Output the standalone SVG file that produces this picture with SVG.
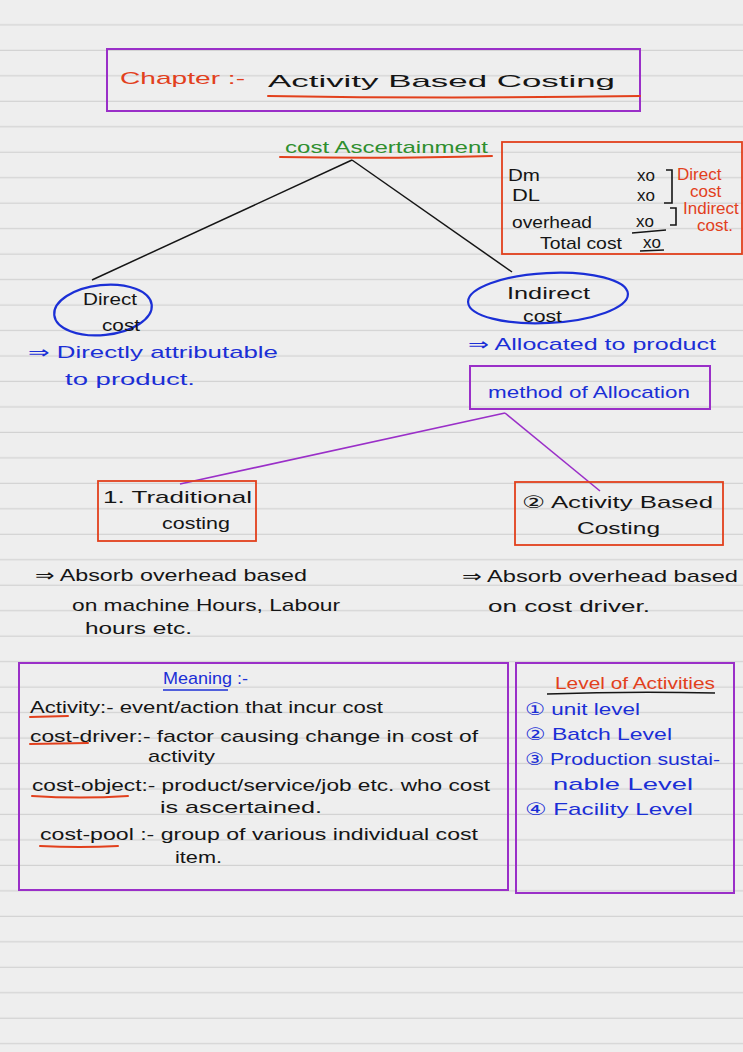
<svg xmlns="http://www.w3.org/2000/svg" width="743" height="1052" viewBox="0 0 743 1052">
<defs>
<pattern id="ruled" x="0" y="0" width="743" height="25.47" patternUnits="userSpaceOnUse">
<rect x="0" y="0" width="743" height="25.47" fill="#eeeeee"/>
<rect x="0" y="24.3" width="743" height="1.3" fill="#d2d2d2"/>
</pattern>
<style>
text{font-family:"Liberation Sans","DejaVu Sans",sans-serif;font-size:17px;}
.k{fill:#151515}
.r{fill:#e2401c}
.g{fill:#2f8f2f}
.b{fill:#1b2fd6}
.box-p{fill:none;stroke:#9a2fc8;stroke-width:2}
.box-r{fill:none;stroke:#e2401c;stroke-width:1.8}
.ell{fill:none;stroke:#1b2fd6;stroke-width:2.2}
.ul-r{stroke:#e2401c;stroke-width:2;fill:none;stroke-linecap:round}
.ul-b{stroke:#1b2fd6;stroke-width:1.6;fill:none}
.ul-k{stroke:#151515;stroke-width:1.6;fill:none}
.con-k{stroke:#151515;stroke-width:1.5;fill:none}
.con-p{stroke:#9a2fc8;stroke-width:1.6;fill:none}
</style>
</defs>
<rect x="0" y="0" width="743" height="1052" fill="#eeeeee"/>
<rect x="0" y="0.7" width="743" height="1052" fill="url(#ruled)"/>

<g id="connectors">
<line class="con-k" x1="352" y1="160" x2="92" y2="280"/>
<line class="con-k" x1="352" y1="160" x2="512" y2="272"/>
<line class="con-p" x1="505" y1="413" x2="180" y2="484"/>
<line class="con-p" x1="505" y1="413" x2="600" y2="491"/>
</g>

<g id="title">
<rect class="box-p" x="107" y="49" width="533" height="62"/>
<text class="r" x="120" y="84" font-size="21" textLength="125" lengthAdjust="spacingAndGlyphs">Chapter :-</text>
<text class="k" x="268" y="87" font-size="29" textLength="347" lengthAdjust="spacingAndGlyphs">Activity Based Costing</text>
<path class="ul-r" d="M268 96 Q450 99 640 96"/>
</g>

<g id="cost-ascertainment">
<text class="g" x="285" y="153" font-size="17" textLength="203" lengthAdjust="spacingAndGlyphs">cost Ascertainment</text>
<path class="ul-r" d="M280 157 Q390 159 492 156"/>
</g>

<g id="cost-sheet">
<rect class="box-r" x="502" y="142" width="240" height="112"/>
<text class="k" x="508" y="181" font-size="15" textLength="32" lengthAdjust="spacingAndGlyphs">Dm</text>
<text class="k" x="637" y="181" font-size="14">xo</text>
<text class="k" x="512" y="201" font-size="15" textLength="28" lengthAdjust="spacingAndGlyphs">DL</text>
<text class="k" x="637" y="201" font-size="14">xo</text>
<path class="ul-k" d="M666 170 L672 170 L672 203 L664 203"/>
<text class="r" font-size="11.5"><tspan x="677" y="180">Direct</tspan><tspan x="690" y="197">cost</tspan></text>
<text class="k" x="512" y="228" font-size="15" textLength="80" lengthAdjust="spacingAndGlyphs">overhead</text>
<text class="k" x="636" y="227" font-size="14">xo</text>
<path class="ul-k" d="M632 233 L666 230"/>
<path class="ul-k" d="M670 208 L676 208 L676 225 L670 225"/>
<text class="r" font-size="11.5"><tspan x="683" y="214">Indirect</tspan><tspan x="697" y="231">cost.</tspan></text>
<text class="k" x="540" y="249" font-size="14" textLength="82" lengthAdjust="spacingAndGlyphs">Total cost</text>
<text class="k" x="643" y="248" font-size="14">xo</text>
<path class="ul-k" d="M640 251 L664 250"/>
</g>

<g id="direct-cost">
<ellipse class="ell" cx="103" cy="310" rx="49" ry="25" transform="rotate(-6 103 310)"/>
<text class="k" x="83" y="305" font-size="16" textLength="54" lengthAdjust="spacingAndGlyphs">Direct</text>
<text class="k" x="102" y="331" font-size="16" textLength="38" lengthAdjust="spacingAndGlyphs">cost</text>
<text class="b" x="28" y="358" font-size="18" textLength="250" lengthAdjust="spacingAndGlyphs">⇒ Directly attributable</text>
<text class="b" x="65" y="385" font-size="18" textLength="130" lengthAdjust="spacingAndGlyphs">to product.</text>
</g>

<g id="indirect-cost">
<ellipse class="ell" cx="548" cy="298" rx="80" ry="25" transform="rotate(-3 548 298)"/>
<text class="k" x="507" y="299" font-size="17" textLength="83" lengthAdjust="spacingAndGlyphs">Indirect</text>
<text class="k" x="523" y="322" font-size="16" textLength="39" lengthAdjust="spacingAndGlyphs">cost</text>
<text class="b" x="468" y="350" font-size="18" textLength="248" lengthAdjust="spacingAndGlyphs">⇒ Allocated to product</text>
</g>

<g id="method-of-allocation">
<rect class="box-p" x="470" y="366" width="240" height="43"/>
<text class="b" x="488" y="398" font-size="17" textLength="202" lengthAdjust="spacingAndGlyphs">method of Allocation</text>
</g>

<g id="traditional-costing">
<rect class="box-r" x="98" y="481" width="158" height="60"/>
<text class="k" x="103" y="503" font-size="18" textLength="149" lengthAdjust="spacingAndGlyphs">1. Traditional</text>
<text class="k" x="162" y="529" font-size="18" textLength="68" lengthAdjust="spacingAndGlyphs">costing</text>
<text class="k" x="35" y="581" font-size="18" textLength="272" lengthAdjust="spacingAndGlyphs">⇒ Absorb overhead based</text>
<text class="k" x="72" y="611" font-size="18" textLength="268" lengthAdjust="spacingAndGlyphs">on machine Hours, Labour</text>
<text class="k" x="85" y="634" font-size="18" textLength="107" lengthAdjust="spacingAndGlyphs">hours etc.</text>
</g>

<g id="activity-based-costing">
<rect class="box-r" x="515" y="482" width="208" height="63"/>
<text class="k" x="522" y="508" font-size="21" textLength="191" lengthAdjust="spacingAndGlyphs">② Activity Based</text>
<text class="k" x="577" y="534" font-size="21" textLength="83" lengthAdjust="spacingAndGlyphs">Costing</text>
<text class="k" x="462" y="582" font-size="18" textLength="276" lengthAdjust="spacingAndGlyphs">⇒ Absorb overhead based</text>
<text class="k" x="488" y="612" font-size="18" textLength="162" lengthAdjust="spacingAndGlyphs">on cost driver.</text>
</g>

<g id="meaning">
<rect class="box-p" x="19" y="663" width="489" height="227"/>
<text class="b" x="163" y="684" font-size="15" textLength="85" lengthAdjust="spacingAndGlyphs">Meaning :-</text>
<path class="ul-b" d="M163 690 L228 690"/>
<text class="k" x="30" y="713" font-size="16" textLength="353" lengthAdjust="spacingAndGlyphs">Activity:- event/action that incur cost</text>
<path class="ul-r" d="M30 717 L68 716"/>
<text class="k" x="30" y="742" font-size="16" textLength="448" lengthAdjust="spacingAndGlyphs">cost-driver:- factor causing change in cost of</text>
<path class="ul-r" d="M30 744 L88 743"/>
<text class="k" x="148" y="762" font-size="16" textLength="67" lengthAdjust="spacingAndGlyphs">activity</text>
<text class="k" x="32" y="791" font-size="16" textLength="458" lengthAdjust="spacingAndGlyphs">cost-object:- product/service/job etc. who cost</text>
<path class="ul-r" d="M32 796 Q80 799 128 796"/>
<text class="k" x="160" y="813" font-size="16" textLength="162" lengthAdjust="spacingAndGlyphs">is ascertained.</text>
<text class="k" x="40" y="840" font-size="16" textLength="438" lengthAdjust="spacingAndGlyphs">cost-pool :- group of various individual cost</text>
<path class="ul-r" d="M40 846 Q80 848 118 846"/>
<text class="k" x="175" y="863" font-size="16" textLength="47" lengthAdjust="spacingAndGlyphs">item.</text>
</g>

<g id="level-of-activities">
<rect class="box-p" x="516" y="663" width="218" height="230"/>
<text class="r" x="555" y="689" font-size="16" textLength="160" lengthAdjust="spacingAndGlyphs">Level of Activities</text>
<path class="ul-k" d="M547 694 Q630 691 715 693"/>
<text class="b" x="525" y="715" font-size="17" textLength="115" lengthAdjust="spacingAndGlyphs">① unit level</text>
<text class="b" x="525" y="740" font-size="17" textLength="147" lengthAdjust="spacingAndGlyphs">② Batch Level</text>
<text class="b" x="525" y="765" font-size="17" textLength="195" lengthAdjust="spacingAndGlyphs">③ Production sustai-</text>
<text class="b" x="553" y="790" font-size="17" textLength="140" lengthAdjust="spacingAndGlyphs">nable Level</text>
<text class="b" x="525" y="815" font-size="17" textLength="168" lengthAdjust="spacingAndGlyphs">④ Facility Level</text>
</g>
</svg>
